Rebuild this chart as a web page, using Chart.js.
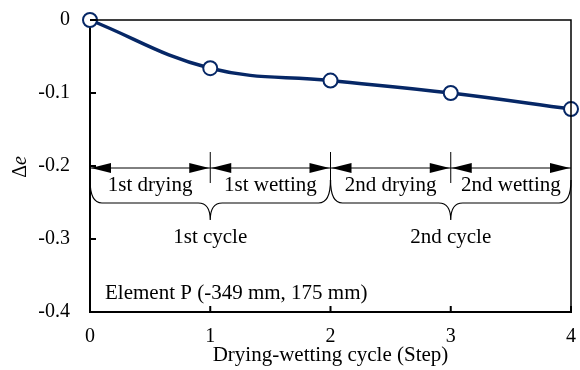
<!DOCTYPE html>
<html>
<head>
<meta charset="utf-8">
<script src="https://cdn.jsdelivr.net/npm/chart.js@4/dist/chart.umd.min.js"></script>
<style>
  html, body { margin: 0; padding: 0; background: #fff; }
</style>
</head>
<body>
<canvas id="myChart" width="580" height="370"></canvas>
<script>
const steps = [0, 1, 2, 3, 4];
const deltaE = [0, -0.066, -0.083, -0.100, -0.122];
const yTicks = [0, -0.1, -0.2, -0.3, -0.4];

// phases between step boundaries, and the cycles that group them
const phaseBounds = [0, 1, 2, 3, 4];
const phaseLabels = ['1st drying', '1st wetting', '2nd drying', '2nd wetting'];
const cycleBounds = [[0, 2], [2, 4]];
const cycleLabels = ['1st cycle', '2nd cycle'];
const elementLabel = 'Element P (-349 mm, 175 mm)';

const SERIF = '"Liberation Serif", "Times New Roman", serif';
const NAVY = '#062766';

function arrowHead(ctx, x, y, dir) {
    ctx.beginPath();
    ctx.moveTo(x, y);
    ctx.lineTo(x + dir * 20, y - 5);
    ctx.lineTo(x + dir * 20, y + 5);
    ctx.closePath();
    ctx.fill();
}

const annotations = {
    id: 'annotations',
    afterDraw(chart) {
        const ctx = chart.ctx;
        const xs = chart.scales.x, ys = chart.scales.y;
        const area = chart.chartArea;
        ctx.save();
        ctx.strokeStyle = '#000';
        ctx.fillStyle = '#000';

        // top and right frame
        ctx.lineWidth = 1.5;
        ctx.beginPath();
        ctx.moveTo(area.left, area.top);
        ctx.lineTo(area.right, area.top);
        ctx.lineTo(area.right, area.bottom);
        ctx.stroke();

        // inward ticks
        ctx.lineWidth = 2;
        ctx.beginPath();
        yTicks.forEach(v => {
            const py = ys.getPixelForValue(v);
            ctx.moveTo(area.left, py);
            ctx.lineTo(area.left + 6, py);
        });
        steps.forEach(v => {
            const px = xs.getPixelForValue(v);
            ctx.moveTo(px, area.bottom);
            ctx.lineTo(px, area.bottom - 6);
        });
        ctx.stroke();

        const ay = ys.getPixelForValue(-0.2) + 2;

        // double arrows for each phase
        ctx.lineWidth = 1;
        for (let i = 0; i < phaseLabels.length; i++) {
            const x0 = xs.getPixelForValue(phaseBounds[i]);
            const x1 = xs.getPixelForValue(phaseBounds[i + 1]);
            ctx.beginPath();
            ctx.moveTo(x0, ay);
            ctx.lineTo(x1, ay);
            ctx.stroke();
            arrowHead(ctx, x0 + 1, ay, 1);
            arrowHead(ctx, x1 - 1, ay, -1);
        }

        // separators
        ctx.beginPath();
        for (let i = 1; i < phaseBounds.length - 1; i++) {
            const px = xs.getPixelForValue(phaseBounds[i]);
            ctx.moveTo(px, ay - 16);
            ctx.lineTo(px, ay + 15);
        }
        ctx.stroke();

        // phase labels
        ctx.font = '21px ' + SERIF;
        ctx.textAlign = 'center';
        ctx.textBaseline = 'middle';
        for (let i = 0; i < phaseLabels.length; i++) {
            const cx = (xs.getPixelForValue(phaseBounds[i]) + xs.getPixelForValue(phaseBounds[i + 1])) / 2;
            ctx.fillText(phaseLabels[i], cx, ay + 17);
        }

        // braces under each cycle
        const by = ay + 35;
        ctx.lineWidth = 1.2;
        cycleBounds.forEach((b, i) => {
            const x0 = xs.getPixelForValue(b[0]);
            const x1 = xs.getPixelForValue(b[1]);
            const cx = (x0 + x1) / 2;
            ctx.beginPath();
            ctx.moveTo(x0, ay + 12);
            ctx.quadraticCurveTo(x0, by, x0 + 12, by);
            ctx.lineTo(cx - 12, by);
            ctx.quadraticCurveTo(cx, by, cx, by + 17);
            ctx.quadraticCurveTo(cx, by, cx + 12, by);
            ctx.lineTo(x1 - 12, by);
            ctx.quadraticCurveTo(x1, by, x1, ay + 12);
            ctx.stroke();
            ctx.fillText(cycleLabels[i], cx, by + 34);
        });

        // element label
        ctx.textAlign = 'left';
        ctx.fillText(elementLabel, area.left + 15, area.bottom - 19);

        // y title: Δe with italic e, rotated
        ctx.translate(21, 167);
        ctx.rotate(-Math.PI / 2);
        ctx.font = '20px ' + SERIF;
        const wD = ctx.measureText('Δ').width;
        ctx.font = 'italic 20px ' + SERIF;
        const wE = ctx.measureText('e').width;
        let sx = -(wD + wE) / 2;
        ctx.font = '20px ' + SERIF;
        ctx.fillText('Δ', sx, 0);
        ctx.font = 'italic 20px ' + SERIF;
        ctx.fillText('e', sx + wD, 0);
        ctx.restore();
    }
};

const ctx = document.getElementById('myChart').getContext('2d');
new Chart(ctx, {
    type: 'line',
    data: {
        datasets: [{
            data: steps.map((s, i) => ({ x: s, y: deltaE[i] })),
            borderColor: NAVY,
            borderWidth: 3.5,
            tension: 0.4,
            pointRadius: 7,
            pointBorderWidth: 2,
            pointBackgroundColor: '#fff',
            pointBorderColor: NAVY,
            clip: false
        }]
    },
    plugins: [annotations],
    options: {
        responsive: false,
        animation: false,
        devicePixelRatio: 1,
        layout: { padding: { top: 20, right: 7, left: 0, bottom: 0 } },
        plugins: { legend: { display: false }, tooltip: { enabled: false } },
        scales: {
            x: {
                type: 'linear',
                min: 0, max: 4,
                afterFit(scale) {
                    scale.height = 58;
                    scale.paddingLeft = 0;
                    scale.paddingRight = 0;
                },
                grid: { display: false, drawTicks: false },
                border: { display: true, color: '#000', width: 2 },
                ticks: {
                    stepSize: 1,
                    padding: 13,
                    color: '#000',
                    font: { family: SERIF, size: 20 }
                },
                title: {
                    display: true,
                    text: 'Drying-wetting cycle (Step)',
                    color: '#000',
                    padding: { top: 0, bottom: 2 },
                    font: { family: SERIF, size: 21 }
                }
            },
            y: {
                min: -0.4, max: 0,
                afterFit(scale) {
                    scale.width = 90;
                    scale.paddingTop = 0;
                    scale.paddingBottom = 0;
                },
                afterBuildTicks(scale) { scale.ticks = yTicks.map(v => ({ value: v })); },
                grid: { display: false, drawTicks: false },
                border: { display: true, color: '#000', width: 2 },
                ticks: {
                    padding: 20,
                    autoSkip: false,
                    color: '#000',
                    font: { family: SERIF, size: 20 },
                    callback: v => v === 0 ? '0' : v.toFixed(1)
                }
            }
        }
    }
});
</script>
</body>
</html>
